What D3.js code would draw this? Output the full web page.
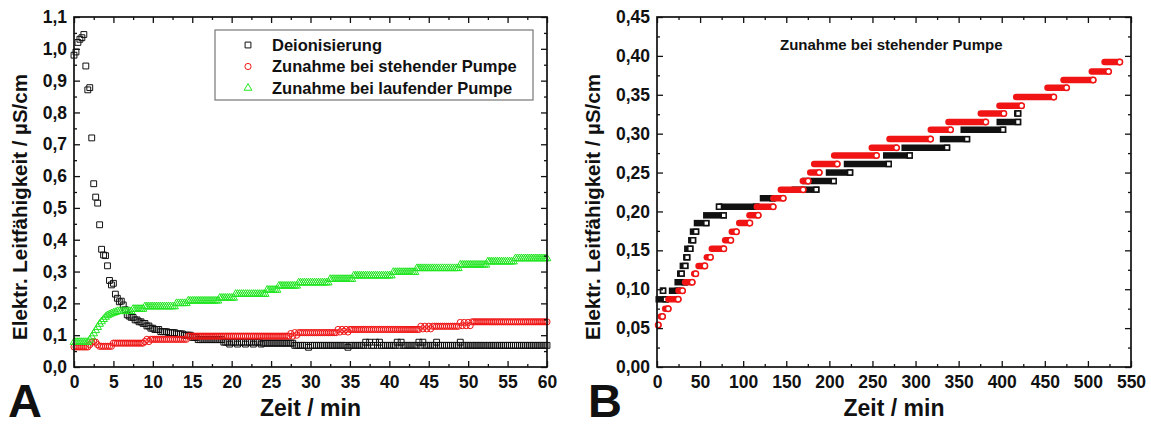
<!DOCTYPE html>
<html>
<head>
<meta charset="utf-8">
<script src="https://cdn.jsdelivr.net/npm/d3@7"></script>
<style>
body { margin: 0; background: #fff; }
svg text { font-family: "Liberation Sans", Arial, sans-serif; font-weight: bold; fill: #111; }
</style>
</head>
<body>
<svg id="chart" width="1151" height="430"></svg>
<script>
// ---- Panel A: readings every 15 s (0.25 min), stored as [value, count] runs
var stepA = 0.25;
var deionRuns = [[0.98,1],[0.99,1],[1.02,1],[1.03,1],[1.035,1],[1.045,1],[0.946,1],[0.871,1],[0.878,1],
  [0.72,1],[0.576,1],[0.534,1],[0.515,1],[0.447,1],[0.37,1],[0.352,1],[0.35,1],[0.318,1],[0.272,1],
  [0.258,1],[0.263,1],[0.229,1],[0.216,1],[0.205,1],[0.207,1],[0.195,1],[0.18,1],[0.164,1],[0.16,1],
  [0.156,2],[0.148,2],[0.142,2],[0.137,2],[0.129,2],[0.122,2],
  [0.118,3],[0.111,4],[0.108,4],[0.104,4],[0.1,4],[0.093,3],[0.086,13],
  [0.078,3],[0.072,1],[0.078,3],[0.072,1],[0.078,3],[0.072,1],[0.078,3],[0.072,1],[0.078,3],[0.072,1],
  [0.075,16],[0.068,7],[0.062,1],[0.068,19],[0.062,1],[0.068,8],
  [0.078,1],[0.068,1],[0.078,1],[0.068,2],[0.078,1],[0.068,1],[0.078,1],[0.068,8],
  [0.078,1],[0.068,1],[0.078,1],[0.068,8],[0.078,1],[0.068,1],[0.078,1],[0.068,6],
  [0.078,1],[0.068,11],[0.078,1],[0.068,44]];
var stehendRunsA = [[0.063,8],[0.07,1],[0.078,1],[0.08,1],[0.078,1],[0.07,1],[0.065,7],[0.075,16],
  [0.08,1],[0.087,1],[0.08,1],[0.087,19],[0.097,52],[0.105,1],[0.097,1],[0.108,1],[0.1,1],[0.108,20],
  [0.118,1],[0.11,1],[0.118,1],[0.112,1],[0.118,1],[0.11,1],[0.118,36],
  [0.128,1],[0.12,1],[0.128,1],[0.12,1],[0.128,1],[0.12,1],[0.128,14],
  [0.14,1],[0.13,1],[0.14,1],[0.13,1],[0.14,1],[0.13,1],[0.142,39]];
var laufendRuns = [[0.078,8],[0.085,1],[0.095,1],[0.105,1],[0.115,1],[0.125,1],[0.135,1],[0.143,1],
  [0.15,1],[0.157,1],[0.162,1],[0.165,1],[0.168,1],[0.17,1],[0.172,1],[0.175,8],[0.182,6],[0.19,16],
  [0.2,6],[0.208,16],[0.217,8],[0.229,16],[0.242,6],[0.255,10],[0.265,16],[0.276,12],[0.287,20],
  [0.298,12],[0.31,22],[0.321,14],[0.331,14],[0.341,17]];

// ---- Panel B: plateaus [from min, to min, value]
var stehendB = [[1.5,1.5,0.054],[4.5,6.4,0.065],[9.5,13,0.075],[13.3,24.6,0.087],[25,29.6,0.098],
  [32.7,40.8,0.109],[43.2,45,0.12],[48.2,55.5,0.13],[57.8,62,0.141],[63.6,77.5,0.152],[79.1,85.6,0.163],
  [86.8,92.2,0.174],[95.4,107.7,0.185],[107.3,117.4,0.195],[115.8,134.8,0.206],[135.2,146.4,0.217],
  [143.7,169.6,0.228],[169.2,175.4,0.239],[177.8,188.2,0.25],[182.4,209.1,0.261],[205.6,254.7,0.272],
  [249.2,277.9,0.282],[269.8,317.4,0.293],[317.7,340.6,0.305],[338.2,381.5,0.315],[375.7,402.4,0.326],
  [397.4,423,0.336],[416.8,460.4,0.347],[453.1,475.2,0.359],[471.7,506.1,0.369],[504.5,523.9,0.38],
  [519.3,537,0.392]];
var deionB = [[2,10,0.087],[7,7,0.098],[17.5,24,0.098],[24,32,0.109],[27,28.5,0.12],[30,32.8,0.13],
  [34,35,0.141],[35.2,38.6,0.152],[39.8,41.8,0.163],[41.8,45.3,0.174],[46.4,57.2,0.185],[57.2,77.4,0.195],
  [72,72,0.206],[76,115,0.206],[123,134,0.217],[160,184.8,0.228],[172,205,0.239],[199.6,224,0.25],
  [220.5,268.9,0.261],[266,293.2,0.272],[287.4,336.5,0.282],[331.9,359.7,0.293],[355.9,401.5,0.305],
  [397.7,418.9,0.315],[418,419,0.326]];

var legendLabels = ["Deionisierung", "Zunahme bei stehender Pumpe", "Zunahme bei laufender Pumpe"];
var titleB = "Zunahme bei stehender Pumpe";
var xTitle = "Zeit / min", yTitle = "Elektr. Leitfähigkeit / µS/cm";

var colBlack = "#111", colRed = "#f01414", colGreen = "#22e622";

var de = d3.formatLocale({decimal: ",", thousands: ".", grouping: [3], currency: ["", " €"]});
var svg = d3.select("#chart");

function expand(runs) {
  var out = [];
  runs.forEach(function(r) { for (var k = 0; k < r[1]; k++) out.push({t: out.length * stepA, v: r[0]}); });
  return out;
}

// frame with inward ticks on all four sides
function frame(x, y, xMaj, xMin, yMaj, yMin, yFmt) {
  var r = x.range(), b = y.range();
  var g = svg.append("g");
  function ax(a, tr, vals, size, labels) {
    var s = g.append("g").attr("transform", tr)
      .call(a.tickValues(vals).tickSize(-size).tickPadding(labels ? 8 : 0).tickFormat(labels || ""));
    s.select(".domain").remove();
    s.selectAll("line").attr("stroke", "#111").attr("stroke-width", 1.3);
    s.selectAll("text").style("font-size", "17.5px").attr("fill", "#111");
    return s;
  }
  ax(d3.axisBottom(x), "translate(0," + b[0] + ")", xMaj, 6, d3.format("d")).selectAll("text").attr("dy", "0.71em").attr("y", 9);
  ax(d3.axisBottom(x), "translate(0," + b[0] + ")", xMin, 3);
  ax(d3.axisTop(x), "translate(0," + b[1] + ")", xMaj, 6);
  ax(d3.axisTop(x), "translate(0," + b[1] + ")", xMin, 3);
  ax(d3.axisLeft(y), "translate(" + r[0] + ",0)", yMaj, 6, de.format(yFmt)).selectAll("text").attr("x", -7);
  ax(d3.axisLeft(y), "translate(" + r[0] + ",0)", yMin, 3);
  ax(d3.axisRight(y), "translate(" + r[1] + ",0)", yMaj, 6);
  ax(d3.axisRight(y), "translate(" + r[1] + ",0)", yMin, 3);
  g.append("rect").attr("x", r[0]).attr("y", b[1]).attr("width", r[1] - r[0]).attr("height", b[0] - b[1])
    .attr("fill", "none").attr("stroke", "#111").attr("stroke-width", 1.7);
}

// ================= Panel A =================
var xA = d3.scaleLinear().domain([0, 60]).range([74, 547]);
var yA = d3.scaleLinear().domain([0, 1.1]).range([367, 17]);

var symSq = d3.symbol().type(d3.symbolSquare).size(34);
var symCi = d3.symbol().type(d3.symbolCircle).size(30);
var symTr = d3.symbol().type(d3.symbolTriangle).size(26);

function scatter(data, sym, col) {
  svg.append("g").selectAll("path").data(data).enter().append("path")
    .attr("d", sym)
    .attr("transform", function(d) { return "translate(" + xA(d.t) + "," + yA(d.v) + ")"; })
    .attr("fill", "none").attr("stroke", col).attr("stroke-width", 1);
}
scatter(expand(deionRuns), symSq, colBlack);
scatter(expand(stehendRunsA), symCi, colRed);
scatter(expand(laufendRuns), symTr, colGreen);

frame(xA, yA, d3.range(0, 61, 5), d3.range(2.5, 60, 5),
  d3.range(0, 12).map(function(i) { return i / 10; }), d3.range(0, 11).map(function(i) { return i / 10 + 0.05; }), ".1f");

// legend
var lg = svg.append("g");
lg.append("rect").attr("x", 215).attr("y", 30).attr("width", 318).attr("height", 70)
  .attr("fill", "#fff").attr("stroke", "#777").attr("stroke-width", 1.2);
var legSyms = [[symSq, colBlack], [symCi, colRed], [symTr, colGreen]];
legendLabels.forEach(function(l, i) {
  var yy = 45 + i * 21.5;
  lg.append("path").attr("d", legSyms[i][0]).attr("transform", "translate(248," + yy + ")")
    .attr("fill", "none").attr("stroke", legSyms[i][1]).attr("stroke-width", 1);
  lg.append("text").attr("x", 272).attr("y", yy).attr("dy", "0.36em").style("font-size", "16.5px").text(l);
});

// ================= Panel B =================
var xB = d3.scaleLinear().domain([0, 550]).range([657, 1131]);
var yB = d3.scaleLinear().domain([0, 0.45]).range([367, 17]);

function plateaus(runs, col, cap, endSym) {
  var g = svg.append("g");
  g.selectAll("line").data(runs).enter().append("line")
    .attr("x1", function(d) { return xB(d[0]); }).attr("x2", function(d) { return xB(d[1]); })
    .attr("y1", function(d) { return yB(d[2]); }).attr("y2", function(d) { return yB(d[2]); })
    .attr("stroke", col).attr("stroke-width", 6.5).attr("stroke-linecap", cap);
  g.selectAll("path").data(runs).enter().append("path")
    .attr("d", endSym)
    .attr("transform", function(d) { return "translate(" + xB(d[1]) + "," + yB(d[2]) + ")"; })
    .attr("fill", "#fff").attr("stroke", col).attr("stroke-width", 1.5);
}
plateaus(deionB, colBlack, "square", d3.symbol().type(d3.symbolSquare).size(24));
plateaus(stehendB, colRed, "round", d3.symbol().type(d3.symbolCircle).size(24));

frame(xB, yB, d3.range(0, 551, 50), d3.range(25, 550, 50),
  d3.range(0, 10).map(function(i) { return i * 0.05; }), d3.range(0, 9).map(function(i) { return i * 0.05 + 0.025; }), ".2f");

svg.append("text").attr("x", 780).attr("y", 50).style("font-size", "15px").text(titleB);

// ================= titles =================
[[xA, 27, 8, "A"], [xB, 600, 588, "B"]].forEach(function(p) {
  var r = p[0].range();
  svg.append("text").attr("x", (r[0] + r[1]) / 2).attr("y", 416).attr("text-anchor", "middle")
    .style("font-size", "23px").text(xTitle);
  svg.append("text").attr("transform", "translate(" + p[1] + ",207) rotate(-90)").attr("text-anchor", "middle")
    .style("font-size", "20.5px").text(yTitle);
  svg.append("text").attr("x", p[2]).attr("y", 417).style("font-size", "47px").text(p[3]);
});
</script>
</body>
</html>
